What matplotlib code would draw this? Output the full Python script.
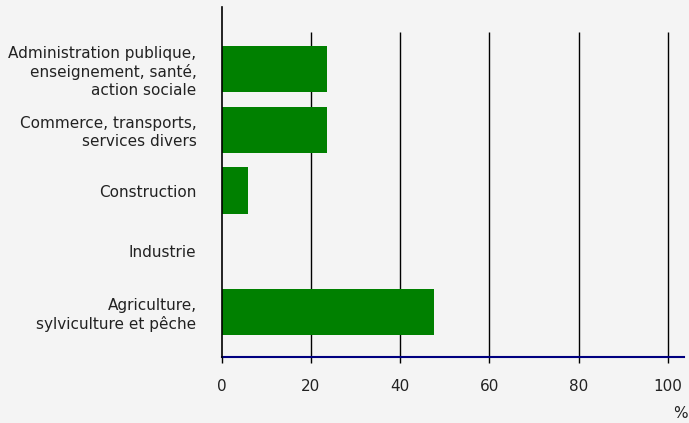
import matplotlib
matplotlib.use("Agg")
import matplotlib.pyplot as plt

categories = [
    "Agriculture,\nsylviculture et pêche",
    "Industrie",
    "Construction",
    "Commerce, transports,\nservices divers",
    "Administration publique,\nenseignement, santé,\naction sociale",
]
values = [47.5, 0.0, 5.9, 23.7, 23.7]
xticks = [0, 20, 40, 60, 80, 100]

BG = "#f4f4f4"
TXT = "#222222"

fig = plt.figure(figsize=(6.89, 4.23), dpi=100, facecolor=BG)
ax = fig.add_axes([221.5 / 689, 66 / 423, 462.5 / 689, 350 / 423])
ax.set_facecolor(BG)

ax.set_xlim(0, 103.6)
ax.set_ylim(-0.74, 5.02)

# vertical gridlines, stopping short of the top
ax.vlines(xticks[1:], -0.74, 4.61, color="black", linewidth=1.0, zorder=1)

ax.barh(range(len(categories)), values, height=0.76, color="#008000", zorder=2)

for side in ["top", "right"]:
    ax.spines[side].set_visible(False)
ax.spines["left"].set_color("black")
ax.spines["left"].set_linewidth(1.2)
ax.spines["bottom"].set_color("#000080")
ax.spines["bottom"].set_linewidth(1.5)
ax.spines["left"].set_zorder(3)

ax.set_xticks(xticks)
ax.set_xticklabels([str(t) for t in xticks], fontsize=11, color=TXT)
ax.tick_params(axis="x", length=4, width=1, color="black", pad=12)
ax.set_yticks(range(len(categories)))
ax.set_yticklabels(categories, fontsize=11, color=TXT, linespacing=1.25)
ax.tick_params(axis="y", length=0, pad=18)

fig.text(688 / 689, 1 - 413 / 423, "%", fontsize=11, color=TXT,
         ha="right", va="center")

fig.savefig("out.png", dpi=100, facecolor=BG)
